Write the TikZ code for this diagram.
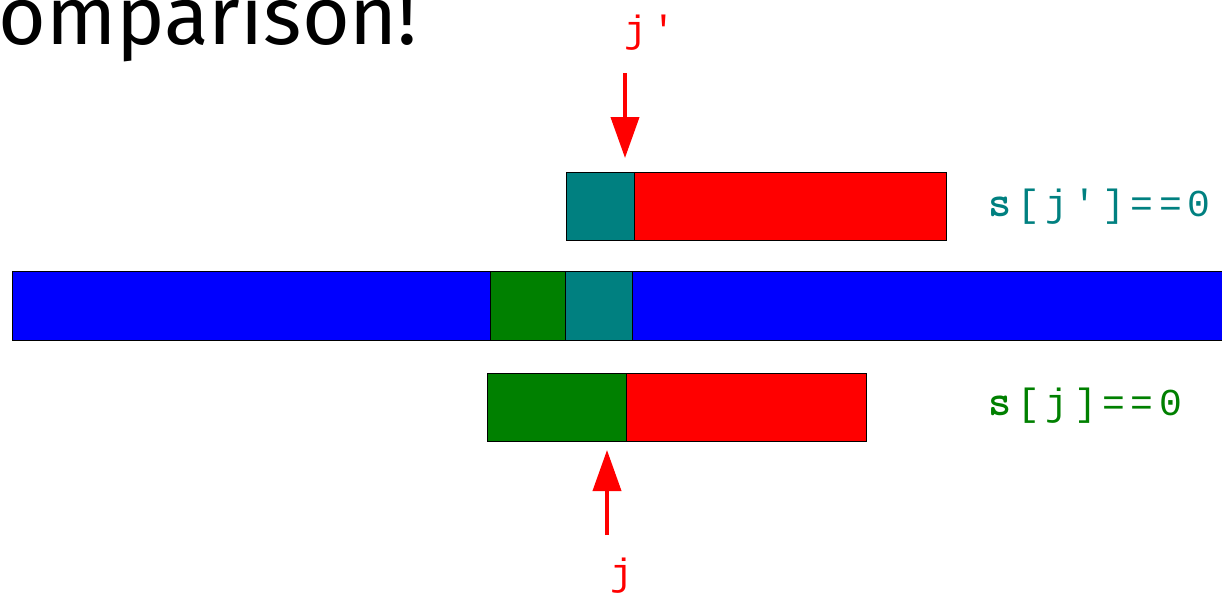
\documentclass[tikz,border=0pt]{standalone}
\usepackage{fontspec}
\setmainfont{Fira Sans}
\newfontfamily\lmono{Liberation Mono}
\usetikzlibrary{arrows.meta}
\definecolor{cteal}{HTML}{008080}
\definecolor{cgreen}{HTML}{008000}
\definecolor{cblue}{HTML}{0000FF}
\definecolor{cred}{HTML}{FF0000}
\newcommand\mcell[1]{\makebox[28.4pt]{#1}}
\newcommand\bolds{{\fontsize{44}{44}\ttfamily\fontseries{b}\selectfont s}}
\tikzset{
  cell/.style={draw=black, line width=1pt, anchor=north west, inner sep=0pt, minimum height=68pt},
  ptr/.style={draw=cred, line width=4pt, -{Triangle[length=41pt,width=28pt]}},
  lbl/.style={inner sep=0pt, anchor=base west, font=\lmono\fontsize{38}{40}\selectfont},
  jlbl/.style={inner sep=0pt, anchor=base, text=cred, font=\lmono\fontsize{38}{40}\selectfont}
}
\begin{document}
\begin{tikzpicture}[x=1pt,y=-1pt]
\useasboundingbox (0,0) rectangle (1222,595);
\clip (0,0) rectangle (1222,595);
% title
\node[inner sep=0pt, anchor=base west, font=\fontsize{82}{90}\selectfont] (title) at (-2,44) {omparison!};
% top row
\node[cell, fill=cteal, minimum width=68pt] (t1) at (566,172) {};
\node[cell, fill=cred, minimum width=312pt] (t2) at (634,172) {};
% middle row
\node[cell, fill=cblue, minimum width=1230pt, minimum height=69pt] (m0) at (12,271) {};
\node[cell, fill=cgreen, minimum width=75pt, minimum height=69pt] (m1) at (490,271) {};
\node[cell, fill=cteal, minimum width=67pt, minimum height=69pt] (m2) at (565,271) {};
% bottom row
\node[cell, fill=cgreen, minimum width=139pt] (b1) at (487,373) {};
\node[cell, fill=cred, minimum width=240pt] (b2) at (626,373) {};
% right labels
\node[lbl, text=cteal] (l1) at (985.8,216) {\mcell{\bolds}\mcell{[}\mcell{j}\mcell{'}\mcell{]}\mcell{=}\mcell{=}\mcell{0}};
\node[lbl, text=cgreen] (l2) at (986,415) {\mcell{\bolds}\mcell{[}\mcell{j}\mcell{]}\mcell{=}\mcell{=}\mcell{0}};
% pointer labels
\node[jlbl] (jp) at (650,42) {\mcell{j}\mcell{'}};
\node[jlbl] (j) at (622,585) {j};
% pointers
\coordinate (jpstart) at (625,73);
\coordinate (jpend) at (625,158);
\coordinate (jstart) at (607,535);
\coordinate (jend) at (607,450);
\draw[ptr] (jpstart) -- (jpend);
\draw[ptr] (jstart) -- (jend);
\end{tikzpicture}
\end{document}
